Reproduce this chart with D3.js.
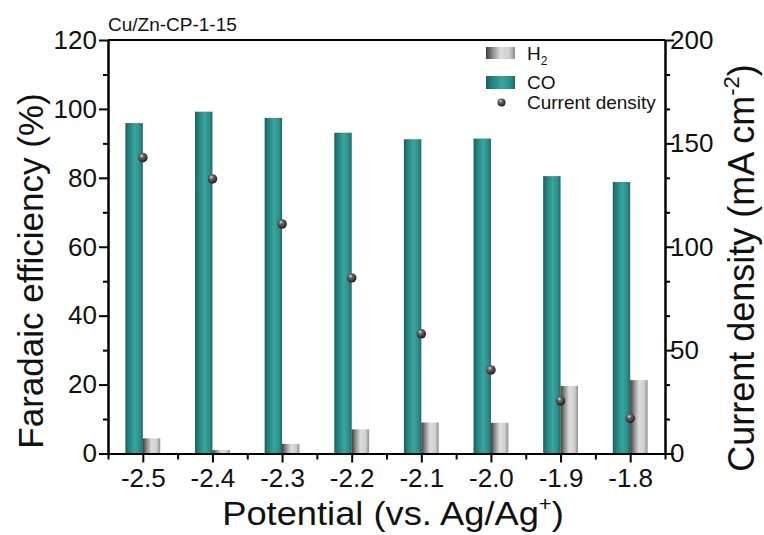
<!DOCTYPE html>
<html>
<head>
<meta charset="utf-8">
<script src="https://cdn.jsdelivr.net/npm/d3@7"></script>
<style>
  html, body { margin: 0; padding: 0; background: #fff; }
  svg { display: block; font-family: "Liberation Sans", Arial, sans-serif; }
</style>
</head>
<body>
<svg id="chart" width="764" height="535"></svg>
<script>
// Applied potentials (V vs. Ag/Ag+)
const potentials = [-2.5, -2.4, -2.3, -2.2, -2.1, -2.0, -1.9, -1.8];
// Faradaic efficiencies (%)
const feCO = [95.9, 99.2, 97.4, 93.1, 91.2, 91.4, 80.5, 78.8];
const feH2 = [4.4, 1.0, 2.8, 7.0, 9.0, 8.9, 19.6, 21.3];
// Total current density (mA cm-2)
const currentDensity = [143.1, 132.8, 111.0, 84.9, 57.9, 40.4, 25.5, 17.0];
// Axis ticks
const feTicks = [0, 20, 40, 60, 80, 100, 120];
const jTicks = [0, 50, 100, 150, 200];

const svg = d3.select("#chart");
const plotLeft = 108, plotRight = 665, plotTop = 40, plotBottom = 453.5;
const tickFont = 26;

const x = d3.scaleLinear().domain([-2.55, -1.75]).range([plotLeft, plotRight]);
const yL = d3.scaleLinear().domain([0, 120]).range([plotBottom, plotTop]);
const yR = d3.scaleLinear().domain([0, 200]).range([plotBottom, plotTop]);
const barW = 0.025;

// Gradients for cylinder-like bars and spherical markers
const defs = svg.append("defs");
function hGrad(id, stops) {
  const g = defs.append("linearGradient").attr("id", id)
    .attr("x1", "0%").attr("x2", "100%").attr("y1", "0%").attr("y2", "0%");
  stops.forEach(([o, c]) => g.append("stop").attr("offset", o).attr("stop-color", c));
}
hGrad("gCO", [["0%", "#1b5d5a"], ["18%", "#237f7b"], ["55%", "#38a6a1"], ["85%", "#2a8c88"], ["100%", "#1e6663"]]);
hGrad("gH2", [["0%", "#3c3c3c"], ["22%", "#8a8a8a"], ["50%", "#dcdcdc"], ["80%", "#d0d0d0"], ["100%", "#8e8e8e"]]);
const rg = defs.append("radialGradient").attr("id", "gPt")
  .attr("cx", "40%").attr("cy", "35%").attr("r", "65%").attr("fx", "38%").attr("fy", "30%");
rg.append("stop").attr("offset", "0%").attr("stop-color", "#e8e8e8");
rg.append("stop").attr("offset", "30%").attr("stop-color", "#6a6a6a");
rg.append("stop").attr("offset", "100%").attr("stop-color", "#1e1e1e");

// Bars
const data = potentials.map((p, i) => ({ p, co: feCO[i], h2: feH2[i], j: currentDensity[i] }));
svg.append("g").selectAll("rect").data(data).join("rect")
  .attr("x", d => x(d.p - barW)).attr("width", d => x(d.p) - x(d.p - barW))
  .attr("y", d => yL(d.co)).attr("height", d => yL(0) - yL(d.co))
  .attr("fill", "url(#gCO)");
svg.append("g").selectAll("rect").data(data).join("rect")
  .attr("x", d => x(d.p)).attr("width", d => x(d.p + barW) - x(d.p))
  .attr("y", d => yL(d.h2)).attr("height", d => yL(0) - yL(d.h2))
  .attr("fill", "url(#gH2)");

// Current density markers
svg.append("g").selectAll("circle").data(data).join("circle")
  .attr("cx", d => x(d.p)).attr("cy", d => yR(d.j)).attr("r", 4.8)
  .attr("fill", "url(#gPt)");

// Axes
function styleAxis(g) {
  g.selectAll(".domain").attr("stroke", "#000").attr("stroke-width", 2);
  g.selectAll(".tick line").attr("stroke", "#000").attr("stroke-width", 2);
  g.selectAll("text").attr("fill", "#111").attr("font-size", tickFont)
    .attr("font-family", "'Liberation Sans', Arial, sans-serif");
}
const minorX = d3.range(-2.55, -1.74, 0.1).map(v => +v.toFixed(2));
svg.append("g").attr("transform", `translate(0,${plotBottom})`)
  .call(d3.axisBottom(x).tickValues(minorX).tickSize(6).tickFormat("").tickSizeOuter(0))
  .call(styleAxis);
svg.append("g").attr("transform", `translate(0,${plotBottom})`)
  .call(d3.axisBottom(x).tickValues(potentials).tickSize(9).tickPadding(6)
    .tickFormat(d => d.toFixed(1)).tickSizeOuter(0))
  .call(styleAxis);

svg.append("g").attr("transform", `translate(${plotLeft},0)`)
  .call(d3.axisLeft(yL).tickValues(d3.range(10, 120, 20)).tickSize(5).tickFormat("").tickSizeOuter(0))
  .call(styleAxis);
svg.append("g").attr("transform", `translate(${plotLeft},0)`)
  .call(d3.axisLeft(yL).tickValues(feTicks).tickSize(9).tickPadding(2).tickSizeOuter(0))
  .call(styleAxis);

const minorJ = d3.range(0, 200, 50 / 3).filter(v => Math.abs(v % 50) > 1 && Math.abs(v % 50 - 50) > 1);
svg.append("g").attr("transform", `translate(${plotRight},0)`)
  .call(d3.axisRight(yR).tickValues(minorJ).tickSize(5).tickFormat("").tickSizeOuter(0))
  .call(styleAxis);
svg.append("g").attr("transform", `translate(${plotRight},0)`)
  .call(d3.axisRight(yR).tickValues(jTicks).tickSize(9).tickPadding(-4).tickSizeOuter(0))
  .call(styleAxis);

// Top frame line
svg.append("line").attr("x1", plotLeft).attr("x2", plotRight).attr("y1", plotTop).attr("y2", plotTop)
  .attr("stroke", "#000").attr("stroke-width", 2);

// Axis titles
svg.append("text").attr("transform", "translate(43,271) rotate(-90)")
  .attr("text-anchor", "middle").attr("font-size", 35).attr("fill", "#111")
  .text("Faradaic efficiency (%)");
const rt = svg.append("text").attr("transform", "translate(754,268) rotate(-90)")
  .attr("text-anchor", "middle").attr("font-size", 36).attr("fill", "#111");
rt.append("tspan").text("Current density (mA cm");
rt.append("tspan").attr("font-size", 22).attr("dy", -15).text("-2");
rt.append("tspan").attr("dy", 15).text(")");
const xt = svg.append("text").attr("transform", "translate(393,525) scale(1.1,1)")
  .attr("text-anchor", "middle").attr("font-size", 33).attr("fill", "#111");
xt.append("tspan").text("Potential (vs. Ag/Ag");
xt.append("tspan").attr("font-size", 20).attr("dy", -14).text("+");
xt.append("tspan").attr("dy", 14).text(")");

// Sample label
svg.append("text").attr("x", 108).attr("y", 31).attr("font-size", 19).attr("fill", "#111")
  .text("Cu/Zn-CP-1-15");

// Legend
const lg = svg.append("g");
lg.append("rect").attr("x", 486).attr("y", 47).attr("width", 29).attr("height", 12).attr("fill", "url(#gH2)");
const h2t = lg.append("text").attr("x", 527).attr("y", 60).attr("font-size", 19).attr("fill", "#111");
h2t.append("tspan").text("H");
h2t.append("tspan").attr("font-size", 12).attr("dy", 5).text("2");
lg.append("rect").attr("x", 486).attr("y", 76).attr("width", 29).attr("height", 13).attr("fill", "url(#gCO)");
lg.append("text").attr("x", 527).attr("y", 89).attr("font-size", 19).attr("fill", "#111").text("CO");
lg.append("circle").attr("cx", 501.5).attr("cy", 102.5).attr("r", 4).attr("fill", "url(#gPt)");
lg.append("text").attr("x", 527).attr("y", 109).attr("font-size", 19).attr("fill", "#111").text("Current density");
</script>
</body>
</html>
